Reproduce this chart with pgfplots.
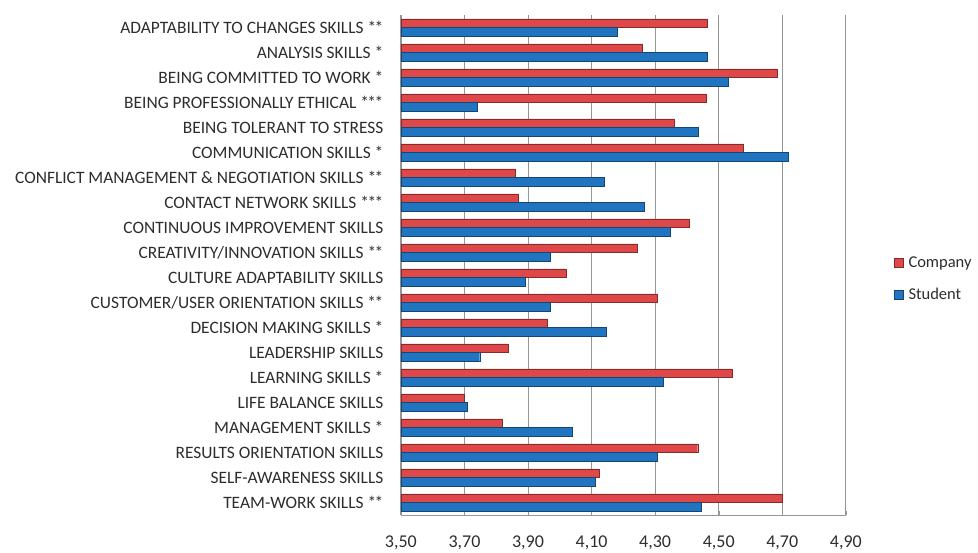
\documentclass[border=0pt]{standalone}
\usepackage{pgfplots}
\pgfplotsset{compat=1.18}
\usepackage{fontspec}
\setmainfont{Carlito}
\definecolor{cred}{RGB}{222,72,72}
\definecolor{cblue}{RGB}{32,116,192}
\definecolor{gridgray}{RGB}{150,150,150}
\definecolor{txt}{RGB}{45,45,45}
\newcommand{\stA}{*}
\newcommand{\stB}{*\kern-1.5pt*}
\newcommand{\stC}{*\kern-1.5pt*\kern-1.5pt*}
\begin{document}
\begin{tikzpicture}
\begin{axis}[
  scale only axis, width=445pt, height=500pt,
  xbar, bar width=8.5pt,
  xmin=3.5, xmax=4.9, ymin=-0.5, ymax=19.5,
  y dir=reverse,
  clip=false,
  axis x line*=bottom, axis y line*=left,
  axis line style={gridgray},
  xtick={3.5,3.7,...,4.95},
  xmajorgrids, major grid style={gridgray, line width=0.8pt},
  x tick style={gridgray}, major tick length=4pt,
  ytick={0,...,19},
  y tick style={draw=none},
  minor ytick={-0.5,0.5,...,19.5},
  minor y tick style={gridgray}, minor tick length=4pt,
  yticklabels={
    {ADAPTABILITY TO CHANGES SKILLS \stB},
    {ANALYSIS SKILLS \stA},
    {BEING COMMITTED TO WORK \stA},
    {BEING PROFESSIONALLY ETHICAL \stC},
    {BEING TOLERANT TO STRESS},
    {COMMUNICATION SKILLS \stA},
    {CONFLICT MANAGEMENT \& NEGOTIATION SKILLS \stB},
    {CONTACT NETWORK SKILLS \stC},
    {CONTINUOUS IMPROVEMENT SKILLS},
    {CREATIVITY/INNOVATION SKILLS \stB},
    {CULTURE ADAPTABILITY SKILLS},
    {CUSTOMER/USER ORIENTATION SKILLS \stB},
    {DECISION MAKING SKILLS \stA},
    {LEADERSHIP SKILLS},
    {LEARNING SKILLS \stA},
    {LIFE BALANCE SKILLS},
    {MANAGEMENT SKILLS \stA},
    {RESULTS ORIENTATION SKILLS},
    {SELF-AWARENESS SKILLS},
    {TEAM-WORK SKILLS \stB}},
  yticklabel style={font=\fontsize{17.4}{19}\selectfont, color=txt, xshift=-10pt},
  xticklabel style={font=\fontsize{18}{20}\selectfont, color=txt, yshift=-17pt},
  /pgf/number format/.cd, fixed, fixed zerofill, precision=2, use comma, assume math mode=true,
  /pgfplots/.cd,
  legend style={draw=none, fill=none, at={(1.108,0.472)}, anchor=west,
    font=\fontsize{16.5}{18}\selectfont, row sep=15pt, column sep=3pt, text=txt, inner xsep=0pt},
  legend cell align=left,
  legend image code/.code={\fill[#1] (0pt,-4.5pt) rectangle (9pt,4.5pt);},
]
\addplot[fill=cred, draw=cred!60!black, line width=0.4pt, bar shift=4.25pt] coordinates {
(4.465,0) (4.26,1) (4.684,2) (4.46,3) (4.36,4) (4.578,5) (3.86,6) (3.868,7) (4.408,8) (4.245,9)
(4.02,10) (4.307,11) (3.96,12) (3.838,13) (4.543,14) (3.70,15) (3.82,16) (4.434,17) (4.123,18) (4.70,19)};
\addplot[fill=cblue, draw=cblue!60!black, line width=0.4pt, bar shift=-4.25pt] coordinates {
(4.18,0) (4.465,1) (4.53,2) (3.74,3) (4.436,4) (4.72,5) (4.14,6) (4.266,7) (4.346,8) (3.97,9)
(3.89,10) (3.97,11) (4.146,12) (3.748,13) (4.326,14) (3.71,15) (4.04,16) (4.306,17) (4.112,18) (4.444,19)};
\legend{Company, Student}
\path (rel axis cs:-0.901,1.03) (rel axis cs:1.297,-0.074);
\end{axis}
\end{tikzpicture}
\end{document}
